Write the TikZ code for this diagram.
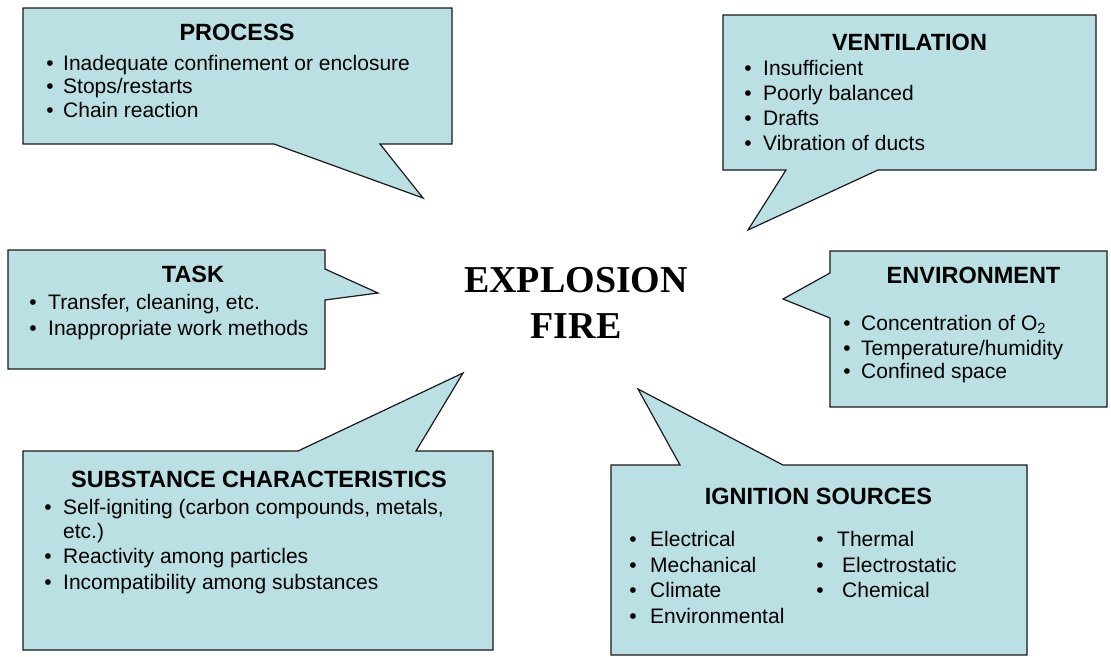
\documentclass[tikz,border=0pt]{standalone}
\usepackage{fontspec}
\setmainfont{Liberation Sans}
\newfontfamily\timesfont{Liberation Serif}
\definecolor{boxfill}{HTML}{BAE0E3}
\definecolor{boxline}{HTML}{1A1A1A}
\begin{document}
\begin{tikzpicture}[x=1pt,y=-1pt,
  callout/.style={fill=boxfill,draw=boxline,line width=1.2pt,line join=miter},
  ttl/.style={inner sep=0pt,anchor=base,font=\fontsize{23.5}{26}\selectfont\bfseries},
  txt/.style={inner sep=0pt,anchor=base west,font=\fontsize{21}{25}\selectfont},
  bul/.style={inner sep=0pt,anchor=base,font=\fontsize{21}{25}\selectfont}]
\newcommand\li[5]{\node[bul] (#1b) at (#2,#4) {•}; \node[txt] (#1) at (#3,#4) {#5};}
\useasboundingbox (0,0) rectangle (1111,656);
\fill[white] (0,0) rectangle (1111,656);
% callout shapes
\draw[callout] (23,8) -- (452,8) -- (452,144) -- (380,144) -- (423,198) -- (274,144) -- (23,144) -- cycle;
\draw[callout] (723,15) -- (1096,15) -- (1096,170) -- (878,170) -- (748,230) -- (786,170) -- (723,170) -- cycle;
\draw[callout] (8,250) -- (325,250) -- (325,269) -- (378,293) -- (325,300) -- (325,369) -- (8,369) -- cycle;
\draw[callout] (830,251) -- (1107,251) -- (1107,407) -- (830,407) -- (830,318) -- (783,299) -- (830,273) -- cycle;
\draw[callout] (23,451) -- (298,451) -- (463,373) -- (416,451) -- (493,451) -- (493,650) -- (23,650) -- cycle;
\draw[callout] (611,465) -- (680,465) -- (638,389) -- (783,465) -- (1027,465) -- (1027,655) -- (611,655) -- cycle;
% PROCESS
\node[ttl] (proc) at (237,40) {PROCESS};
\li{p1}{50}{63}{70}{Inadequate confinement or enclosure}
\li{p2}{50}{63}{93.5}{Stops/restarts}
\li{p3}{50}{63}{117}{Chain reaction}
% VENTILATION
\node[ttl] (vent) at (909.5,50) {VENTILATION};
\li{v1}{748}{763}{75}{Insufficient}
\li{v2}{748}{763}{100}{Poorly balanced}
\li{v3}{748}{763}{125}{Drafts}
\li{v4}{748}{763}{150}{Vibration of ducts}
% TASK
\node[ttl] (task) at (193,282) {TASK};
\li{t1}{33}{48}{309}{Transfer, cleaning, etc.}
\li{t2}{33}{48}{335}{Inappropriate work methods}
% ENVIRONMENT
\node[ttl] (env) at (973.5,283) {ENVIRONMENT};
\li{e1}{847}{861}{330}{Concentration of O\textsubscript{2}}
\li{e2}{847}{861}{355}{Temperature/humidity}
\li{e3}{847}{861}{378}{Confined space}
% SUBSTANCE
\node[ttl] (subst) at (259,487) {SUBSTANCE CHARACTERISTICS};
\li{s1}{48}{63}{514}{Self-igniting (carbon compounds, metals,}
\node[txt] (s1c) at (63,538) {etc.)};
\li{s2}{48}{63}{563}{Reactivity among particles}
\li{s3}{48}{63}{589}{Incompatibility among substances}
% IGNITION
\node[ttl] (ign) at (818.5,504) {IGNITION SOURCES};
\li{i1}{633}{650}{546}{Electrical}
\li{i2}{633}{650}{572}{Mechanical}
\li{i3}{633}{650}{597}{Climate}
\li{i4}{633}{650}{623}{Environmental}
\li{i5}{820}{837}{546}{Thermal}
\li{i6}{820}{842}{572}{Electrostatic}
\li{i7}{820}{842}{597}{Chemical}
% centre
\node[inner sep=0pt,anchor=base,font=\timesfont\fontsize{38}{46}\selectfont\bfseries] (expl) at (576,292) {EXPLOSION};
\node[inner sep=0pt,anchor=base,font=\timesfont\fontsize{38}{46}\selectfont\bfseries] (fire) at (576,338) {FIRE};
\end{tikzpicture}
\end{document}
